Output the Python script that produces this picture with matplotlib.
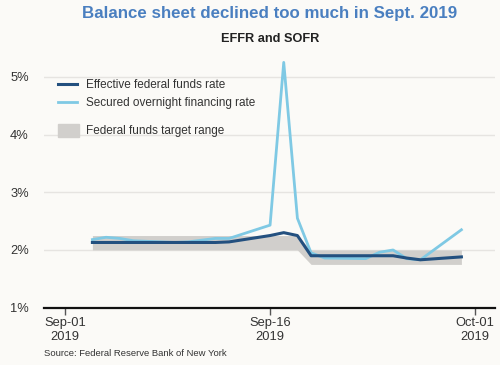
import pandas as pd
import matplotlib.pyplot as plt
from matplotlib.lines import Line2D
from matplotlib.patches import Patch

# ---- data (business days, Sep 2019) ----
dates = pd.to_datetime([
    "2019-09-03", "2019-09-04", "2019-09-05", "2019-09-06",
    "2019-09-09", "2019-09-10", "2019-09-11", "2019-09-12", "2019-09-13",
    "2019-09-16", "2019-09-17", "2019-09-18", "2019-09-19", "2019-09-20",
    "2019-09-23", "2019-09-24", "2019-09-25", "2019-09-26", "2019-09-27",
    "2019-09-30",
])
effr = [2.13, 2.13, 2.13, 2.13, 2.13, 2.13, 2.13, 2.13, 2.14,
        2.25, 2.30, 2.25, 1.90, 1.90, 1.90, 1.90, 1.90, 1.86, 1.83, 1.88]
sofr = [2.18, 2.22, 2.20, 2.16, 2.13, 2.14, 2.17, 2.20, 2.20,
        2.43, 5.25, 2.55, 1.95, 1.86, 1.85, 1.96, 2.00, 1.85, 1.83, 2.35]
target_low = [2.00] * 12 + [1.75] * 8
target_high = [2.25] * 12 + [2.00] * 8

tick_dates = pd.to_datetime(["2019-09-01", "2019-09-16", "2019-10-01"])
tick_labels = ["Sep-01\n2019", "Sep-16\n2019", "Oct-01\n2019"]
y_ticks = [1, 2, 3, 4, 5]

# ---- style ----
bg = "#FBFAF7"
effr_color = "#23507F"
sofr_color = "#7FC9E4"
band_color = "#D1CFCC"
plt.rcParams["font.family"] = ["Liberation Sans", "DejaVu Sans"]

fig = plt.figure(figsize=(5, 3.65), dpi=100, facecolor=bg)
ax = fig.add_axes([0.088, 0.157, 0.902, 0.68], facecolor=bg)

ax.fill_between(dates, target_low, target_high, color=band_color, lw=0, zorder=1)
ax.plot(dates, effr, color=effr_color, lw=2.2, zorder=3)
ax.plot(dates, sofr, color=sofr_color, lw=2.0, zorder=2)

ax.set_ylim(1, 5.3)
ax.set_yticks(y_ticks)
ax.set_yticklabels([f"{v}%" for v in y_ticks])
ax.set_xlim(pd.Timestamp("2019-08-30 11:00"), pd.Timestamp("2019-10-02 11:00"))
ax.set_xticks(tick_dates)
ax.set_xticklabels(tick_labels)

ax.grid(axis="y", color="#E6E4E1", lw=1)
ax.set_axisbelow(True)
for s in ["top", "right", "left"]:
    ax.spines[s].set_visible(False)
ax.spines["bottom"].set_linewidth(1.6)
ax.spines["bottom"].set_color("#111111")
ax.tick_params(axis="y", length=0, labelsize=9.3, colors="#333333", pad=11)
ax.tick_params(axis="x", length=5, width=1, color="#555555", labelsize=9.3,
               labelcolor="#333333", pad=2)

# legends
h1 = [Line2D([], [], color=effr_color, lw=2.2),
      Line2D([], [], color=sofr_color, lw=2.0)]
leg1 = ax.legend(h1, ["Effective federal funds rate", "Secured overnight financing rate"],
                 loc="upper left", bbox_to_anchor=(0.012, 0.955), frameon=False,
                 fontsize=8.5, handlelength=1.6, handletextpad=0.8,
                 labelspacing=0.55, borderaxespad=0.3)
for t in leg1.get_texts():
    t.set_color("#333333")
ax.add_artist(leg1)
leg2 = ax.legend([Patch(color=band_color)], ["Federal funds target range"],
                 loc="upper left", bbox_to_anchor=(0.012, 0.775), frameon=False,
                 fontsize=8.5, handlelength=1.8, handleheight=1.4,
                 handletextpad=0.6, borderaxespad=0.3)
for t in leg2.get_texts():
    t.set_color("#333333")

fig.text(0.54, 0.962, "Balance sheet declined too much in Sept. 2019",
         ha="center", va="center", fontsize=12.2, fontweight="bold", color="#4A7FC0")
fig.text(0.54, 0.893, "EFFR and SOFR", ha="center", va="center",
         fontsize=9.2, fontweight="bold", color="#222222")
fig.text(0.088, 0.032, "Source: Federal Reserve Bank of New York", ha="left",
         va="center", fontsize=6.8, color="#333333")

fig.savefig("out.png", dpi=100, facecolor=bg)
